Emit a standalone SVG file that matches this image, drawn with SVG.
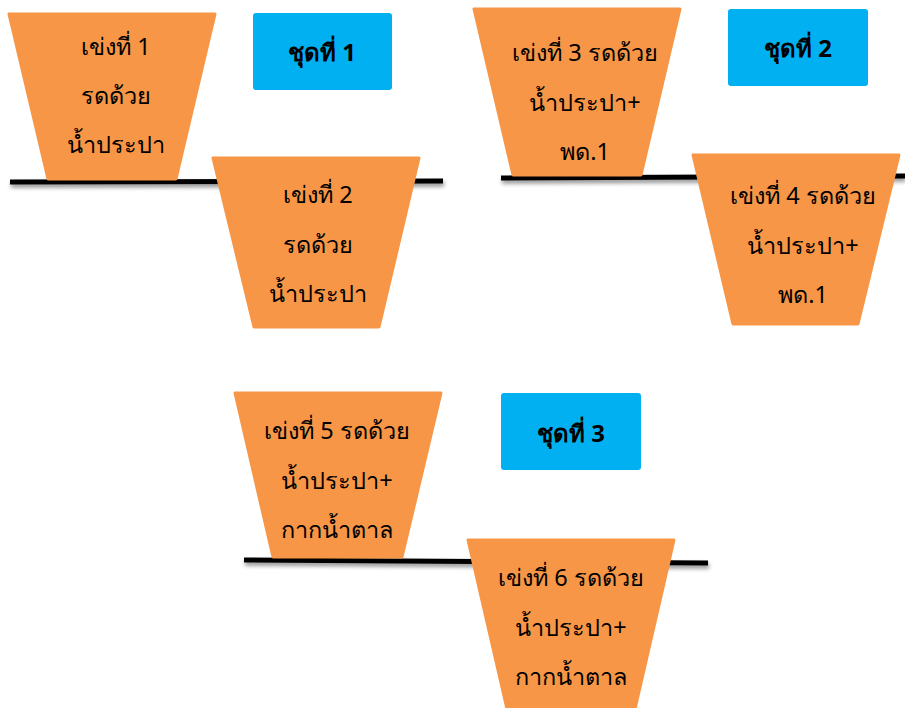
<svg xmlns="http://www.w3.org/2000/svg" width="905" height="708" viewBox="0 0 905 708">
<defs>
<filter id="sh" x="-5%" y="-200%" width="110%" height="500%">
<feGaussianBlur in="SourceAlpha" stdDeviation="2"/>
<feOffset dx="1" dy="3" result="b"/>
<feComponentTransfer><feFuncA type="linear" slope="0.45"/></feComponentTransfer>
<feMerge><feMergeNode/><feMergeNode in="SourceGraphic"/></feMerge>
</filter>
</defs>
<style>
.pot{fill:#F79646;stroke:#F79646;stroke-width:3;stroke-linejoin:round}
.set{fill:#00B0F0}
.t{font-family:"Noto Sans","DejaVu Sans",sans-serif;font-size:23.5px;fill:#000;text-anchor:middle;dominant-baseline:central}
.b{font-family:"Noto Sans","DejaVu Sans",sans-serif;font-size:24px;font-weight:bold;fill:#000;text-anchor:middle;dominant-baseline:central}
.ln{stroke:#000;stroke-width:5;fill:none}
</style>
<g id="connectors" filter="url(#sh)">
<line class="ln" x1="10" y1="182" x2="443" y2="181"/>
<line class="ln" x1="501" y1="178" x2="905" y2="176"/>
<line class="ln" x1="244" y1="560" x2="708" y2="563"/>
</g>
<g id="pot1">
<polygon class="pot" points="9,14 215,14 176,179 48,179"/>
<text class="t" x="116" y="46">เข่งที่ 1</text>
<text class="t" x="116" y="95">รดด้วย</text>
<text class="t" x="116" y="144">น้ำประปา</text>
</g>
<g id="pot2">
<polygon class="pot" points="213,158 419,158 379,327 254,327"/>
<text class="t" x="318" y="194">เข่งที่ 2</text>
<text class="t" x="318" y="244">รดด้วย</text>
<text class="t" x="318" y="293">น้ำประปา</text>
</g>
<g id="set1">
<rect class="set" x="253" y="13" width="139" height="77" rx="3"/>
<text class="b" x="322" y="51">ชุดที่ 1</text>
</g>
<g id="pot3">
<polygon class="pot" points="474,9 680,9 641,175 513,175"/>
<text class="t" x="585" y="52">เข่งที่ 3 รดด้วย</text>
<text class="t" x="585" y="102">น้ำประปา+</text>
<text class="t" x="585" y="151">พด.1</text>
</g>
<g id="pot4">
<polygon class="pot" points="693,155 899,155 858,324 733,324"/>
<text class="t" x="803" y="195">เข่งที่ 4 รดด้วย</text>
<text class="t" x="803" y="245">น้ำประปา+</text>
<text class="t" x="803" y="294">พด.1</text>
</g>
<g id="set2">
<rect class="set" x="728" y="9" width="140" height="77" rx="3"/>
<text class="b" x="798" y="47">ชุดที่ 2</text>
</g>
<g id="pot5">
<polygon class="pot" points="235,393 441,393 402,557 273,557"/>
<text class="t" x="337" y="430">เข่งที่ 5 รดด้วย</text>
<text class="t" x="337" y="480">น้ำประปา+</text>
<text class="t" x="337" y="529">กากน้ำตาล</text>
</g>
<g id="pot6">
<polygon class="pot" points="468,540 674,540 635,709 507,709"/>
<text class="t" x="571" y="577">เข่งที่ 6 รดด้วย</text>
<text class="t" x="571" y="627">น้ำประปา+</text>
<text class="t" x="571" y="676">กากน้ำตาล</text>
</g>
<g id="set3">
<rect class="set" x="501" y="393" width="140" height="77" rx="3"/>
<text class="b" x="571" y="432">ชุดที่ 3</text>
</g>
</svg>
